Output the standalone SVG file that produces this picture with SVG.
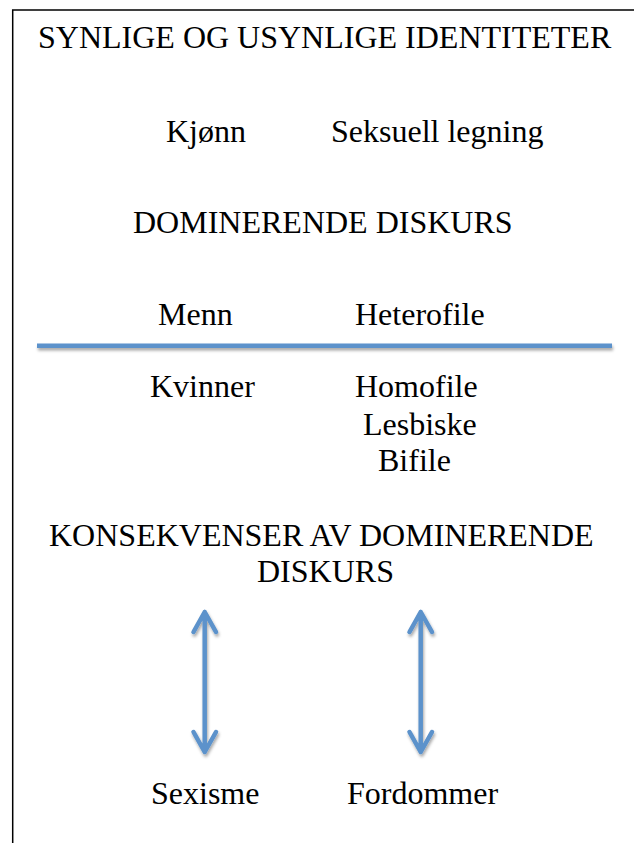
<svg xmlns="http://www.w3.org/2000/svg" width="634" height="843" viewBox="0 0 634 843">
  <style>
    .lbl { font-family: 'Liberation Serif', 'Times New Roman', serif; font-size: 32px; fill: #000; }
    .frame { fill: none; stroke: #000; stroke-width: 1.5; }
    .blue { fill: none; stroke: #5b92cb; stroke-width: 4.5; }
    .arrow { fill: none; stroke: #5b92cb; stroke-width: 4.5; stroke-linecap: round; stroke-linejoin: round; }
  </style>
  <defs>
    <filter id="shadow" x="-50%" y="-50%" width="200%" height="200%">
      <feDropShadow dx="1" dy="2.5" stdDeviation="1.6" flood-color="#000" flood-opacity="0.35"/>
    </filter>
  </defs>
  <rect x="0" y="0" width="634" height="843" fill="#fff"/>
  <path class="frame" d="M12.7,843 V10 H634"/>

  <g id="title"><text class="lbl" x="38" y="48">SYNLIGE OG USYNLIGE IDENTITETER</text></g>
  <g id="kjonn"><text class="lbl" x="166" y="142">Kjønn</text></g>
  <g id="seksuell"><text class="lbl" x="331" y="142">Seksuell legning</text></g>
  <g id="dominerende"><text class="lbl" x="133" y="233">DOMINERENDE DISKURS</text></g>
  <g id="menn"><text class="lbl" x="158" y="325">Menn</text></g>
  <g id="heterofile"><text class="lbl" x="355" y="325">Heterofile</text></g>
  <g id="kvinner"><text class="lbl" x="150" y="397">Kvinner</text></g>
  <g id="minoriteter">
    <text class="lbl" x="355" y="397">Homofile</text>
    <text class="lbl" x="363" y="435">Lesbiske</text>
    <text class="lbl" x="378" y="471">Bifile</text>
  </g>
  <g id="konsekvenser">
    <text class="lbl" x="49" y="546">KONSEKVENSER AV DOMINERENDE</text>
    <text class="lbl" x="257" y="582">DISKURS</text>
  </g>
  <g id="sexisme"><text class="lbl" x="151" y="804">Sexisme</text></g>
  <g id="fordommer"><text class="lbl" x="347" y="804">Fordommer</text></g>

  <g id="connectors" filter="url(#shadow)">
    <line class="blue" x1="37" y1="345.7" x2="612" y2="345.7"/>
    <path class="arrow" d="M204.7,612 V752 M193.5,632 L204.7,612 L216,632 M193.5,732 L204.7,752 L216,732"/>
    <path class="arrow" d="M420.7,612 V752 M409.5,632 L420.7,612 L432,632 M409.5,732 L420.7,752 L432,732"/>
  </g>
</svg>
